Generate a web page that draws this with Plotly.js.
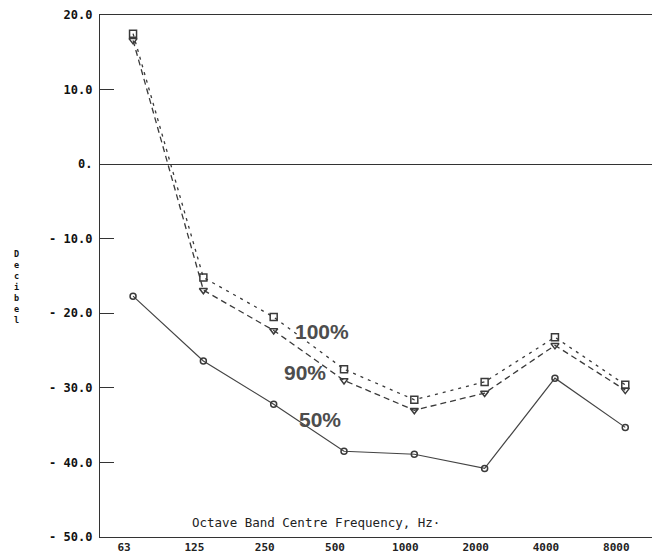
<!DOCTYPE html>
<html>
<head>
<meta charset="utf-8">
<script src="https://cdn.plot.ly/plotly-3.0.1.min.js"></script>
<style>html,body{margin:0;padding:0;background:#fff;}#chart{width:655px;height:553px;}</style>
</head>
<body>
<div id="chart"></div>
<script>
const frequencies = ["63", "125", "250", "500", "1000", "2000", "4000", "8000"];
const level100 = [17.5, -15.2, -20.5, -27.5, -31.6, -29.2, -23.2, -29.6];
const level90  = [16.6, -16.9, -22.3, -29.0, -33.0, -30.7, -24.3, -30.3];
const level50  = [-17.7, -26.4, -32.2, -38.5, -38.9, -40.8, -28.7, -35.3];
const yTickValues = [-50, -40, -30, -20, -10, 0, 10, 20];
const yTickLabels = ["- 50.0", "- 40.0", "- 30.0", "- 20.0", "- 10.0", "0.", "10.0", "20.0"];
const seriesLabels = ["100%", "90%", "50%"];

const lineColor = "#3a3a3a";
const traces = [
  {x: frequencies, y: level100, name: seriesLabels[0], mode: "lines+markers",
   line: {color: lineColor, width: 1.3, dash: "3px,5px"},
   marker: {symbol: "square-open", size: 7, color: lineColor, line: {width: 1.5}}},
  {x: frequencies, y: level90, name: seriesLabels[1], mode: "lines+markers",
   line: {color: lineColor, width: 1.3, dash: "6px,4px"},
   marker: {symbol: "triangle-down-open", size: 7, color: lineColor, line: {width: 1.5}}},
  {x: frequencies, y: level50, name: seriesLabels[2], mode: "lines+markers",
   line: {color: "#444", width: 1.2},
   marker: {symbol: "circle-open", size: 6, color: lineColor, line: {width: 1.5}}}
];

const annotations = [
  {x: 2.69, y: -22.4, text: seriesLabels[0]},
  {x: 2.45, y: -28.0, text: seriesLabels[1]},
  {x: 2.66, y: -34.3, text: seriesLabels[2]}
].map(a => Object.assign(a, {xref: "x", yref: "y", showarrow: false,
  font: {family: "Liberation Sans, Arial, sans-serif", size: 21, color: "#4d4d4d", weight: "bold"}}));

const yTitle = "Decibel";
annotations.push({xref: "paper", yref: "paper", x: 0, y: 0.479, xshift: -88, yanchor: "middle",
  text: yTitle.split("").join("<br>"), showarrow: false,
  font: {family: "DejaVu Sans Mono, monospace", size: 8.5, color: "#111", weight: "bold"}});

annotations.push({xref: "paper", yref: "paper", x: 0.392, y: 0, yshift: 15, yanchor: "middle",
  text: "Octave Band Centre Frequency, Hz·", showarrow: false,
  font: {family: "DejaVu Sans Mono, monospace", size: 12.5, color: "#222"}});

const layout = {
  width: 655, height: 553,
  margin: {l: 100, r: 3, t: 15, b: 16},
  paper_bgcolor: "#fff", plot_bgcolor: "#fff",
  showlegend: false,
  xaxis: {type: "category", range: [-0.47, 7.38], showgrid: false, zeroline: false,
    showline: true, linecolor: "#333", linewidth: 1.2, mirror: true, ticks: "",
    ticklabelshift: -9,
    tickfont: {family: "DejaVu Sans Mono, monospace", size: 11, color: "#222", weight: "bold"}},
  yaxis: {range: [-50, 20], tickvals: yTickValues, ticktext: yTickLabels,
    showgrid: false, zeroline: true, zerolinecolor: "#333", zerolinewidth: 1.2,
    showline: true, linecolor: "#333", linewidth: 1.2, ticks: "inside", ticklen: 14,
    tickcolor: "#333", tickwidth: 1.2, ticklabelstandoff: 4,
    tickfont: {family: "DejaVu Sans Mono, monospace", size: 12, color: "#111", weight: "bold"}},
  annotations: annotations
};

Plotly.newPlot("chart", traces, layout, {displayModeBar: false, staticPlot: true});
</script>
</body>
</html>
